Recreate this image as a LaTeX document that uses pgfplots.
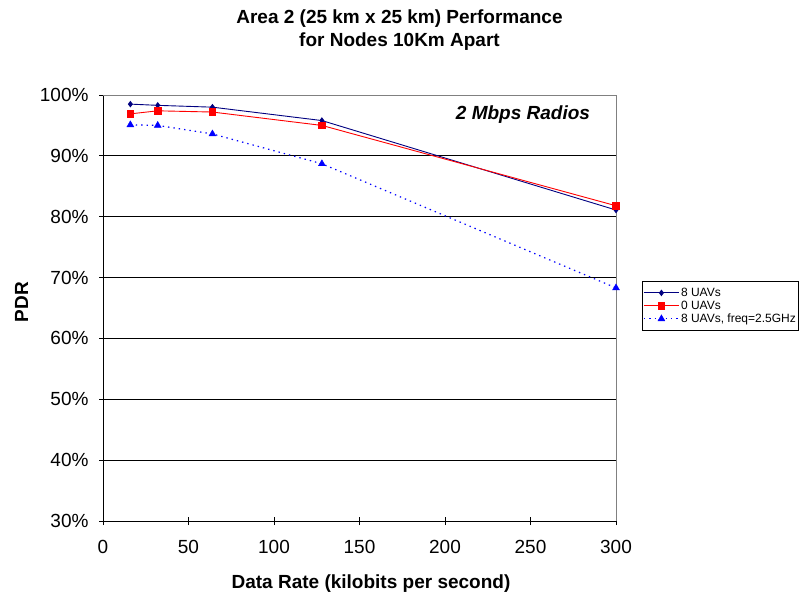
\documentclass[border=0pt]{standalone}
\usepackage{pgfplots}
\pgfplotsset{compat=1.18}
\usepackage{fontspec}
\setmainfont{Liberation Sans}
\definecolor{navyc}{RGB}{0,0,128}
\definecolor{redc}{RGB}{255,0,0}
\definecolor{bluec}{RGB}{0,0,255}
\definecolor{frameg}{RGB}{128,128,128}
\begin{document}
\begin{tikzpicture}[x=1pt,y=1pt]
\useasboundingbox (0,0) rectangle (799,594);
\begin{axis}[
  at={(103pt,73pt)}, anchor=south west,
  scale only axis, width=513pt, height=426pt,
  xmin=0, xmax=300, ymin=30, ymax=100,
  xtick={0,50,...,300},
  ytick={30,40,...,100},
  yticklabels={30\%,40\%,50\%,60\%,70\%,80\%,90\%,100\%},
  /pgf/number format/assume math mode=true,
  tick label style={font=\fontsize{19}{22}\selectfont},
  xtick pos=left, ytick pos=left,
  tick align=center, major tick length=8pt,
  tick style={black, line width=0.8pt},
  axis line style={draw=none},
  ymajorgrids, grid style={black, line width=0.8pt},
  yticklabel style={xshift=-7pt},
  xticklabel style={yshift=-12pt},
  clip=false,
  legend style={at={(axis description cs:1.0507,0.563)}, anchor=north west,
    draw=black, line width=0.6pt, inner xsep=1pt, inner ysep=5pt,
    font=\fontsize{12}{12}\selectfont, row sep=0pt,
    nodes={inner xsep=1.5pt, inner ysep=1.5pt}},
  legend cell align=left,
  legend image code/.code={\draw[mark repeat=2,mark phase=2,#1] plot coordinates {(0pt,0pt) (17.5pt,0pt) (35pt,0pt)};},
]
\draw[black, line width=0.8pt] (rel axis cs:0,1) -- (rel axis cs:0,0) -- (rel axis cs:1,0);
\draw[frameg, line width=0.8pt] (rel axis cs:0,1) -- (rel axis cs:1,1) -- (rel axis cs:1,0);
\addplot[navyc, line width=0.9pt, mark=diamond*, mark size=2.6pt, mark options={solid, fill=navyc}]
  coordinates {(16,98.5) (32,98.3) (64,98.0) (128,95.8) (300,81.1)};
\addlegendentry{8 UAVs}
\addplot[redc, line width=0.9pt, mark=square*, mark size=3.4pt, mark options={solid, fill=redc}]
  coordinates {(16,96.9) (32,97.4) (64,97.2) (128,95.0) (300,81.8)};
\addlegendentry{0 UAVs}
\addplot[bluec, line width=1.2pt, dash pattern=on 1.4pt off 4pt, mark=triangle*, mark size=4pt, mark options={solid, fill=bluec, line width=0.4pt}]
  coordinates {(16,95.1) (32,95.0) (64,93.6) (128,88.7) (300,68.3)};
\addlegendentry{8 UAVs, freq=2.5GHz}
\end{axis}
\node[anchor=base, font=\bfseries\fontsize{19}{22}\selectfont] at (399.5,570) {Area 2 (25 km x 25 km) Performance};
\node[anchor=base, font=\bfseries\fontsize{19}{22}\selectfont] at (399.5,547) {for Nodes 10Km Apart};
\node[anchor=base, font=\bfseries\fontsize{19}{22}\selectfont] at (371,6) {Data Rate (kilobits per second)};
\node[anchor=base, rotate=90, font=\bfseries\fontsize{19}{22}\selectfont] at (28,292) {PDR};
\node[anchor=base, font=\bfseries\itshape\fontsize{19}{22}\selectfont] at (523,474) {2 Mbps Radios};
\end{tikzpicture}
\end{document}
